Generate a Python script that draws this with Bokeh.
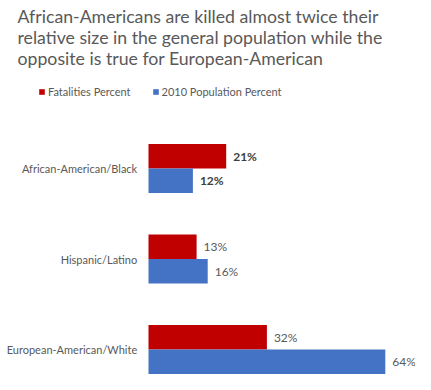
from bokeh.plotting import figure
from bokeh.models import ColumnDataSource, Label, Legend, LegendItem, Range1d
from bokeh.core.properties import value
from bokeh.transform import dodge
from bokeh.embed import file_html
from bokeh.resources import INLINE

categories = ["African-American/Black", "Hispanic/Latino", "European-American/White"]
fatalities = [21, 13, 32]
population = [12, 16, 64]
series = ["Fatalities Percent", "2010 Population Percent"]
title_lines = [
    "African-Americans are killed almost twice their",
    "relative size in the general population while the",
    "opposite is true for European-American",
]

RED = "#C00000"
BLUE = "#4472C4"
GRAY = "#595959"
FONT = "Lato"

ypos = [len(categories) - 1 - i for i in range(len(categories))]
bold = ["bold" if i == 0 else "normal" for i in range(len(categories))]
lblcol = ["#404040" if i == 0 else GRAY for i in range(len(categories))]

src = ColumnDataSource(dict(
    y=ypos,
    cat=categories,
    fat=fatalities,
    pop=population,
    fat_lbl=[f"{v}%" for v in fatalities],
    pop_lbl=[f"{v}%" for v in population],
    style=bold,
    lcol=lblcol,
))

W, Hh = 415, 374
K = 3.7           # px per percent
X0 = 148          # px from left edge to value 0
YU = 90.5         # px per category step
YC = 168          # px from top to top category centre
BAR = 24.5        # bar thickness in px

p = figure(width=W, height=Hh, output_backend="svg", toolbar_location=None,
           title=None, x_axis_location=None, y_axis_location=None,
           x_range=Range1d(-X0 / K, (W - X0) / K),
           y_range=Range1d(2 - (Hh - YC) / YU, 2 + YC / YU),
           min_border_left=0, min_border_right=0, min_border_top=0, min_border_bottom=0)
p.outline_line_color = None
p.xgrid.visible = False
p.ygrid.visible = False

OFF = BAR / 2 / YU
H = BAR / YU
r_fat = p.hbar(y=dodge("y", OFF), right="fat", left=0, height=H, source=src,
               fill_color=RED, line_color=None)
r_pop = p.hbar(y=dodge("y", -OFF), right="pop", left=0, height=H, source=src,
               fill_color=BLUE, line_color=None)

p.text(x="fat", y=dodge("y", OFF), text="fat_lbl", source=src, x_offset=7,
       text_baseline="middle", text_align="left", text_font=value(FONT),
       text_font_size="12px", text_font_style="style", text_color="lcol")
p.text(x="pop", y=dodge("y", -OFF), text="pop_lbl", source=src, x_offset=7,
       text_baseline="middle", text_align="left", text_font=value(FONT),
       text_font_size="12px", text_font_style="style", text_color="lcol")

# category labels (left axis)
p.text(x=0, y="y", text="cat", source=src, x_offset=-11.3,
       text_baseline="middle", text_align="right", text_font=value(FONT),
       text_font_size="11px", text_color=GRAY)

baselines = [Hh - 15.7, Hh - 37.0, Hh - 58.3]
for t, yb in zip(title_lines, baselines):
    p.add_layout(Label(x=17, y=yb, x_units="screen", y_units="screen", text=t,
                       text_font=FONT, text_font_size="17.7px", text_color=GRAY,
                       text_baseline="alphabetic"))

legend = Legend(items=[LegendItem(label=series[0], renderers=[r_fat]),
                       LegendItem(label=series[1], renderers=[r_pop])],
                orientation="horizontal", location=(38, 276),
                glyph_width=7, glyph_height=7, label_standoff=3, spacing=21,
                padding=0, margin=0, border_line_alpha=0, background_fill_alpha=0,
                label_text_font=FONT, label_text_font_size="11px",
                label_text_color=GRAY, label_height=7)
p.add_layout(legend)

open("out.html", "w").write(file_html(p, INLINE))
